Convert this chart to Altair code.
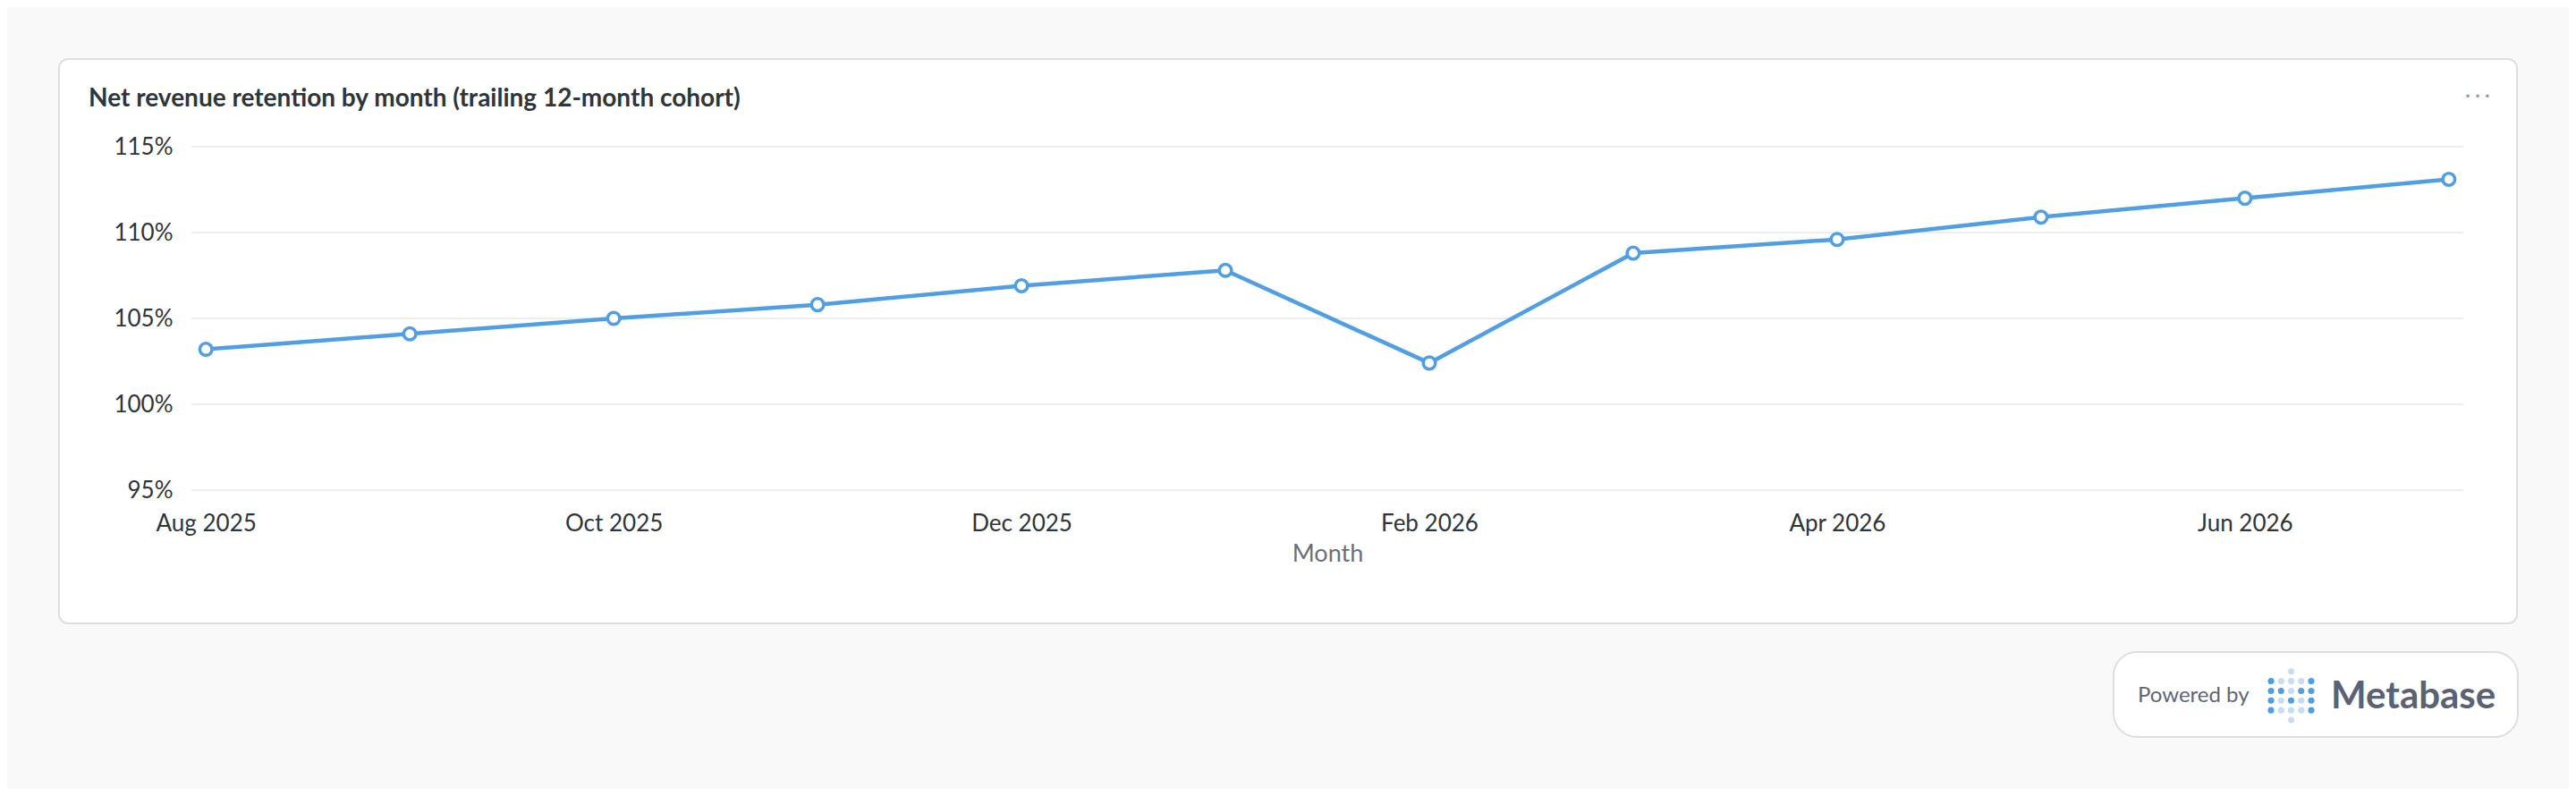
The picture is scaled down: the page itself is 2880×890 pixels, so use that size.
import altair as alt
import pandas as pd

# ---- data ----
months = ["Aug 2025", "Sep 2025", "Oct 2025", "Nov 2025", "Dec 2025", "Jan 2026",
          "Feb 2026", "Mar 2026", "Apr 2026", "May 2026", "Jun 2026", "Jul 2026"]
nrr = [103.2, 104.1, 105.0, 105.8, 106.9, 107.8, 102.4, 108.8, 109.6, 110.9, 112.0, 113.1]
x_tick_labels = ["Aug 2025", "Oct 2025", "Dec 2025", "Feb 2026", "Apr 2026", "Jun 2026"]
y_ticks = [95, 100, 105, 110, 115]

# Metabase logo dot grid (column, row, shade)
logo_col = [2, 0, 1, 2, 3, 4, 0, 1, 2, 3, 4, 0, 1, 2, 3, 4, 0, 1, 2, 3, 4, 2]
logo_row = [0, 1, 1, 1, 1, 1, 2, 2, 2, 2, 2, 3, 3, 3, 3, 3, 4, 4, 4, 4, 4, 5]
logo_shade = ["light", "dark", "light", "light", "light", "dark",
              "dark", "dark", "light", "dark", "dark",
              "dark", "light", "dark", "light", "dark",
              "dark", "light", "light", "light", "dark", "light"]

df = pd.DataFrame({"month": months, "pct": nrr})
grid_df = pd.DataFrame({"pct": y_ticks})
logo_df = pd.DataFrame({"col": logo_col, "row": logo_row, "shade": logo_shade})

BLUE = "#509EE3"
TEXT = "#2E353B"
W, H = 2540, 384
one = alt.Data(values=[{}])

ydom = alt.Scale(domain=[95, 115], nice=False, zero=False)
xscale = alt.Scale(type="point", padding=0.071)

# ---- decorations ----
card = alt.Chart(one).mark_rect(
    fill="white", stroke="#DCDFE1", strokeWidth=2, cornerRadius=10
).encode(x=alt.value(-148), x2=alt.value(2600), y=alt.value(-98), y2=alt.value(533))

badge = alt.Chart(one).mark_rect(
    fill="white", stroke="#DCDFE1", strokeWidth=2, cornerRadius=26
).encode(x=alt.value(2149), x2=alt.value(2601), y=alt.value(565), y2=alt.value(660))

title = alt.Chart(one).mark_text(
    align="left", baseline="alphabetic", fontSize=28, fontWeight="bold", color=TEXT, font="Lato"
).encode(x=alt.value(-115), y=alt.value(-45),
         text=alt.value("Net revenue retention by month (trailing 12-month cohort)"))

dots = alt.Chart(one).mark_text(
    align="center", baseline="middle", fontSize=12, color="#949AAB", font="DejaVu Sans"
).encode(x=alt.value(2556), y=alt.value(-56), text=alt.value("• • •"))

powered = alt.Chart(one).mark_text(
    align="left", baseline="middle", fontSize=24, color="#5E6577", font="Lato"
).encode(x=alt.value(2176), y=alt.value(614), text=alt.value("Powered by"))

metabase = alt.Chart(one).mark_text(
    align="left", baseline="alphabetic", fontSize=42, fontWeight="bold", color="#5C6276", font="Lato"
).encode(x=alt.value(2392), y=alt.value(628), text=alt.value("Metabase"))

logo = alt.Chart(logo_df).mark_circle(size=50, opacity=1).encode(
    x=alt.X("col:Q", scale=alt.Scale(domain=[0, 4], range=[2325, 2370]), axis=None),
    y=alt.Y("row:Q", scale=alt.Scale(domain=[0, 5], range=[586.7, 641]), axis=None),
    color=alt.Color("shade:N", scale=alt.Scale(domain=["dark", "light"], range=[BLUE, "#C6DDF4"]),
                    legend=None),
)

# ---- main chart ----
xaxis = alt.Axis(values=x_tick_labels, labelAngle=0, labelFontSize=26, labelColor=TEXT,
                 labelFont="Lato", labelPadding=24, domain=False, ticks=False, tickSize=0,
                 grid=False, title="Month", titleFont="Lato", titleFontSize=27,
                 titleFontWeight="normal", titleColor="#69707D", titlePadding=8,
                 labelOverlap=False, labelFlush=False, zindex=1)
yaxis = alt.Axis(values=y_ticks, labelExpr="datum.value + '%'", labelFontSize=26,
                 labelColor=TEXT, labelFont="Lato", labelPadding=21, domain=False,
                 ticks=False, tickSize=0, grid=False, title=None, zindex=1)

xenc = alt.X("month:O", sort=months, scale=xscale, axis=xaxis)
yenc = alt.Y("pct:Q", scale=ydom, axis=yaxis)

gridlines = alt.Chart(grid_df).mark_rule(color="#EDEEEF", strokeWidth=2).encode(y=yenc)
line = alt.Chart(df).mark_line(color=BLUE, strokeWidth=4.5).encode(x=xenc, y=yenc)
points = alt.Chart(df).mark_point(
    shape="circle", filled=True, fill="white", stroke=BLUE, strokeWidth=3.5, size=185, opacity=1
).encode(x=xenc, y=yenc)

main = alt.layer(gridlines, line, points)

chart = alt.layer(card, badge, title, dots, powered, metabase, logo, main).resolve_scale(
    x="independent", y="independent"
).properties(
    width=W, height=H,
    padding={"left": 206, "top": 156, "right": 118, "bottom": 334},
    autosize=alt.AutoSizeParams(type="none"),
    background="#F9F9F9",
).configure_view(stroke=None).configure(font="Lato")

chart.save("out.html", embed_options={"renderer": "svg", "actions": False})
